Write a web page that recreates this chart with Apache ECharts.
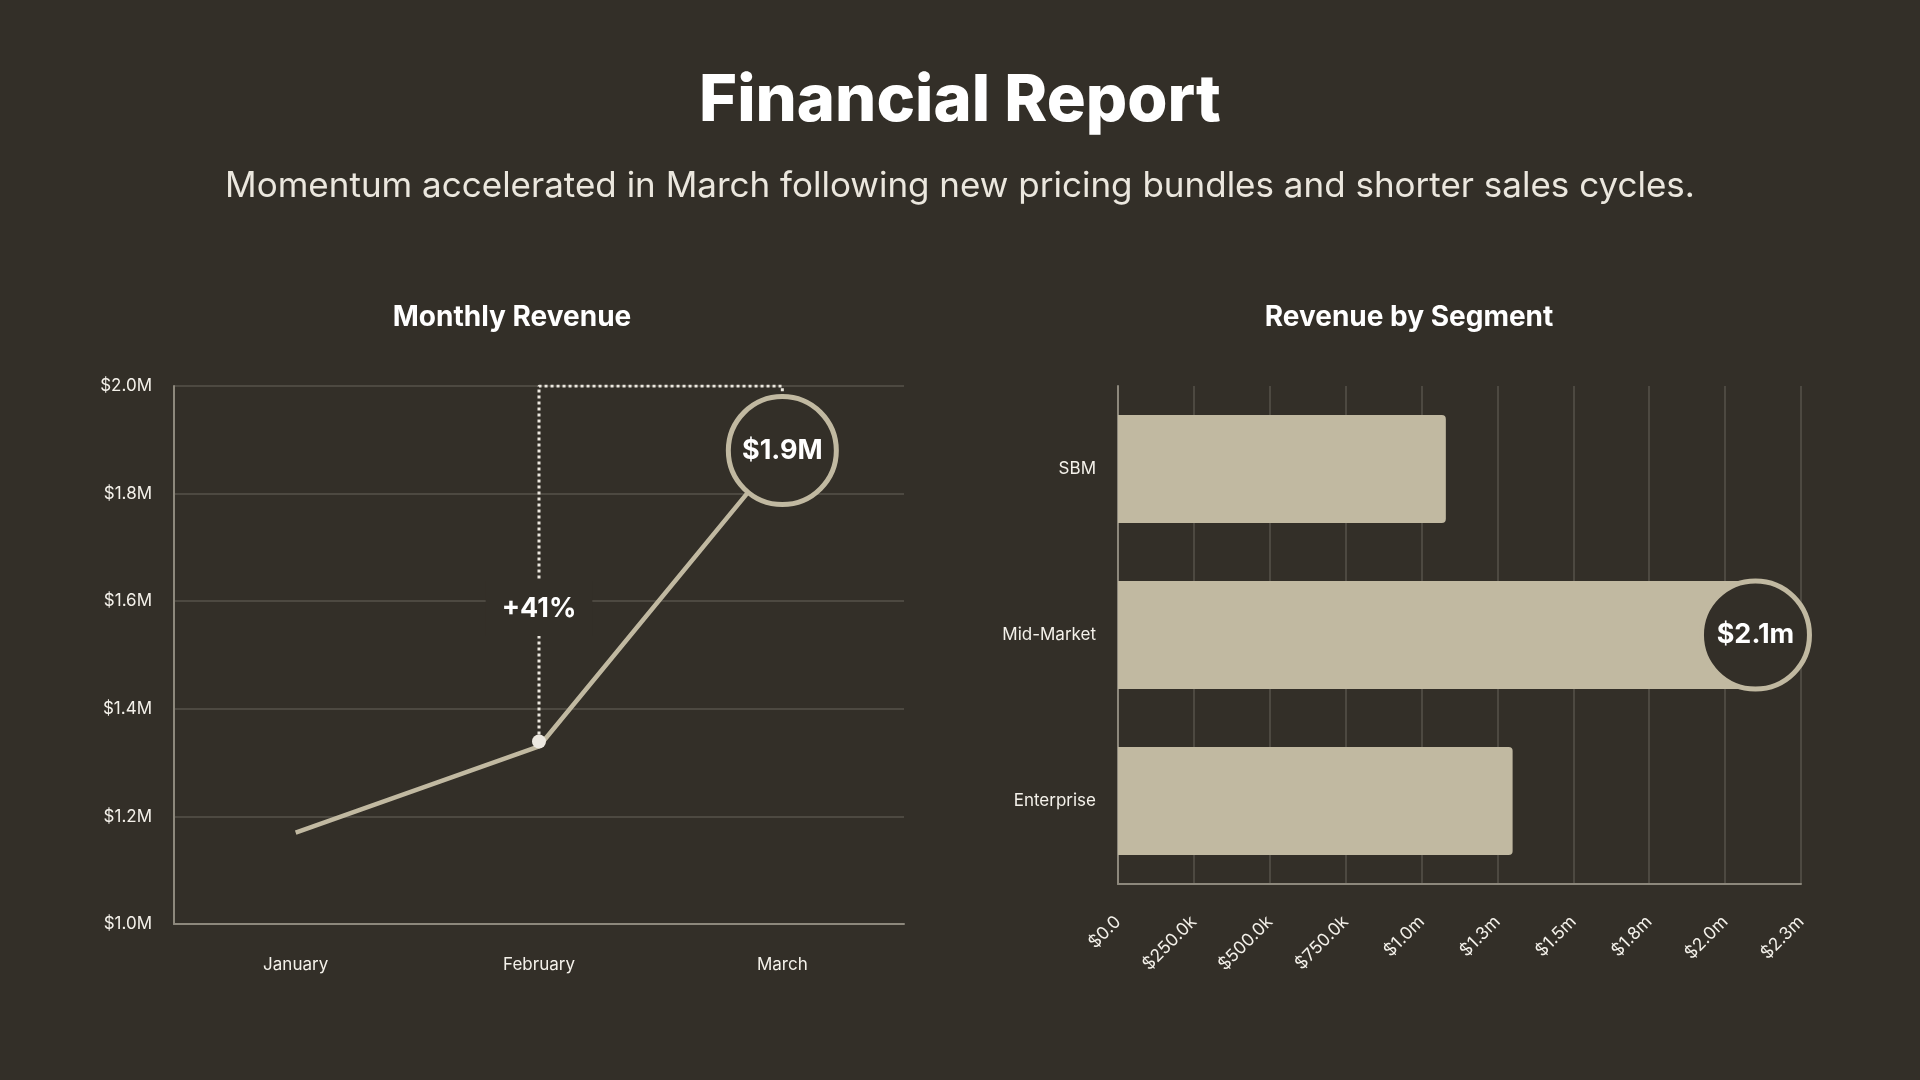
<!DOCTYPE html>
<html>
<head>
<meta charset="utf-8">
<title>Financial Report</title>
<script src="https://cdn.jsdelivr.net/npm/echarts@6/dist/echarts.min.js"></script>
<style>
	html, body { margin: 0; padding: 0; background: #332f28; }
	#main { width: 1920px; height: 1080px; }
</style>
</head>
<body>
<div id="main"></div>
<script>
var months = [ 'January', 'February', 'March' ];
var monthlyRevenue = [ 1170000, 1330000, 1880000 ];
var revenueAxis = { min: 1000000, max: 2000000, interval: 200000 };

var segments = [ 'SBM', 'Mid-Market', 'Enterprise' ];
var segmentRevenue = [ 1080000, 2100000, 1300000 ];
var segmentAxis = { min: 0, max: 2250000, interval: 250000 };

var bg = '#332f28';
var beige = '#c1b9a1';
var textColor = '#f4f1ea';
var gridColor = '#57534a';
var axisColor = '#8d887c';
var font = 'Inter';

function moneyM(v) {
	return '$' + (v / 1000000).toFixed(1) + 'M';
}
function moneyKm(v) {
	if (v === 0) {
		return '$0.0';
	}
	if (v < 1000000) {
		return '$' + (v / 1000).toFixed(1) + 'k';
	}
	return '$' + (v / 1000000).toFixed(1) + 'm';
}

var feb = monthlyRevenue[1];
var mar = monthlyRevenue[2];
var growth = '+' + Math.round((mar / feb - 1) * 100) + '%';

// index of the biggest segment gets the callout circle
var topIdx = 0;
for (var i = 1; i < segmentRevenue.length; i++) {
	if (segmentRevenue[i] > segmentRevenue[topIdx]) topIdx = i;
}

var myChart = echarts.init(document.getElementById('main'));
var option = {
	backgroundColor: bg,
	textStyle: { fontFamily: font },
	animation: false,
	title: [ {
		text: 'Financial Report',
		left: 'center',
		top: 64,
		textStyle: { color: '#ffffff', fontSize: 65, fontWeight: 800, fontFamily: font }
	}, {
		text: 'Momentum accelerated in March following new pricing bundles and shorter sales cycles.',
		left: 'center',
		top: 164,
		textStyle: { color: '#ebe7de', fontSize: 35, fontWeight: 400, fontFamily: font }
	}, {
		text: 'Monthly Revenue',
		left: 507,
		textAlign: 'center',
		top: 299,
		textStyle: { color: '#ffffff', fontSize: 28, fontWeight: 700, fontFamily: font }
	}, {
		text: 'Revenue by Segment',
		left: 1404,
		textAlign: 'center',
		top: 299,
		textStyle: { color: '#ffffff', fontSize: 28, fontWeight: 700, fontFamily: font }
	} ],
	grid: [ {
		left: 174, right: 1016, top: 386, bottom: 156
	}, {
		left: 1118, right: 119, top: 386, bottom: 196
	} ],
	xAxis: [ {
		type: 'category',
		gridIndex: 0,
		data: months,
		boundaryGap: true,
		axisLine: { lineStyle: { color: axisColor, width: 2 } },
		axisTick: { show: false },
		axisLabel: { color: textColor, fontSize: 17, margin: 32 },
		splitLine: { show: false }
	}, {
		type: 'value',
		gridIndex: 1,
		min: segmentAxis.min,
		max: segmentAxis.max,
		interval: segmentAxis.interval,
		axisLine: { show: true, lineStyle: { color: axisColor, width: 2 } },
		axisTick: { show: false },
		axisLabel: { color: textColor, fontSize: 17.5, rotate: 45, margin: 35, formatter: moneyKm },
		splitLine: { lineStyle: { color: gridColor, width: 1.5 } }
	} ],
	yAxis: [ {
		type: 'value',
		gridIndex: 0,
		min: revenueAxis.min,
		max: revenueAxis.max,
		interval: revenueAxis.interval,
		axisLine: { show: true, lineStyle: { color: axisColor, width: 2 } },
		axisTick: { show: false },
		axisLabel: { color: textColor, fontSize: 17, margin: 22, formatter: moneyM },
		splitLine: { lineStyle: { color: gridColor, width: 1.5 } }
	}, {
		type: 'category',
		gridIndex: 1,
		data: segments,
		inverse: true,
		axisLine: { show: true, lineStyle: { color: axisColor, width: 2 } },
		axisTick: { show: false },
		axisLabel: { color: textColor, fontSize: 17, margin: 22 },
		splitLine: { show: false }
	} ],
	series: [ {
		// dotted bracket from February up and over to March
		type: 'line',
		xAxisIndex: 0,
		yAxisIndex: 0,
		z: 2,
		symbol: 'none',
		silent: true,
		lineStyle: { color: '#ece8df', width: 3, type: [ 3, 3 ] },
		data: [ [ months[1], feb ], [ months[1], revenueAxis.max ], [ months[2], revenueAxis.max ], [ months[2], mar ] ]
	}, {
		name: 'Monthly Revenue',
		type: 'line',
		xAxisIndex: 0,
		yAxisIndex: 0,
		z: 3,
		symbol: 'none',
		lineStyle: { color: beige, width: 4.5, cap: 'butt' },
		data: monthlyRevenue
	}, {
		// February dot, growth label and March callout
		type: 'scatter',
		xAxisIndex: 0,
		yAxisIndex: 0,
		z: 5,
		itemStyle: { opacity: 1 },
		data: [ {
			value: [ months[1], feb ],
			symbolSize: 14,
			symbolOffset: [ 0, -5 ],
			itemStyle: { color: '#ece8e0', opacity: 1 }
		}, {
			value: [ months[1], (feb + mar) / 2 ],
			symbolSize: 1,
			itemStyle: { color: 'rgba(0,0,0,0)' },
			label: {
				show: true,
				position: 'inside',
				offset: [ 0, 10 ],
				formatter: growth,
				color: '#ffffff',
				fontSize: 27,
				fontWeight: 700,
				backgroundColor: bg,
				padding: [ 14, 16 ]
			}
		}, {
			value: [ months[2], mar ],
			symbolSize: 108,
			itemStyle: { color: bg, borderColor: beige, borderWidth: 5, opacity: 1 },
			label: {
				show: true,
				position: 'inside',
				formatter: moneyM(mar),
				color: '#ffffff',
				fontSize: 27,
				fontWeight: 700
			}
		} ]
	}, {
		name: 'Revenue by Segment',
		type: 'bar',
		xAxisIndex: 1,
		yAxisIndex: 1,
		z: 2,
		barCategoryGap: '35%',
		itemStyle: { color: beige, borderRadius: [ 0, 4, 4, 0 ] },
		data: segmentRevenue
	}, {
		type: 'scatter',
		xAxisIndex: 1,
		yAxisIndex: 1,
		z: 5,
		itemStyle: { opacity: 1 },
		data: [ {
			value: [ segmentRevenue[topIdx], segments[topIdx] ],
			symbolSize: 108,
			itemStyle: { color: bg, borderColor: beige, borderWidth: 5, opacity: 1 },
			label: {
				show: true,
				position: 'inside',
				formatter: moneyKm(segmentRevenue[topIdx]),
				color: '#ffffff',
				fontSize: 27,
				fontWeight: 700
			}
		} ]
	} ]
};
myChart.setOption(option);
</script>
</body>
</html>
